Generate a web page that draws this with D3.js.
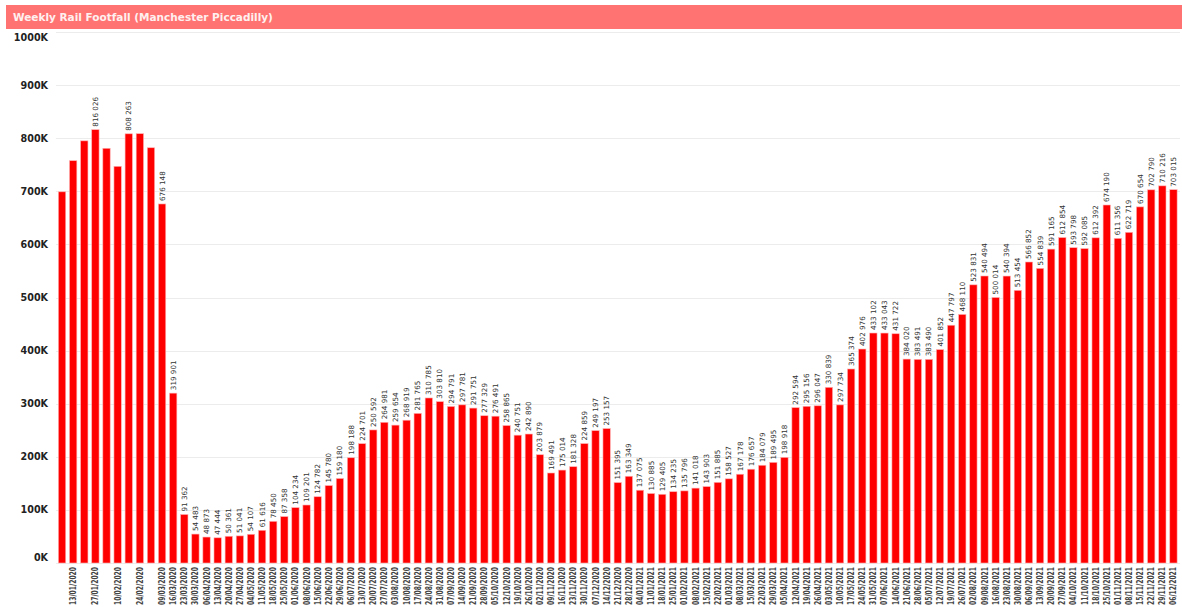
<!DOCTYPE html>
<html>
<head>
<meta charset="utf-8">
<script src="https://cdn.jsdelivr.net/npm/d3@7"></script>
<style>
  body { margin: 0; background: #fff; overflow: hidden; }
  svg { display: block; }
</style>
</head>
<body>
<div id="chart"></div>
<script>
// weekly footfall, Manchester Piccadilly
const weeks = [
  "06/01/2020","13/01/2020","20/01/2020","27/01/2020","03/02/2020","10/02/2020","17/02/2020","24/02/2020",
  "02/03/2020","09/03/2020","16/03/2020","23/03/2020","30/03/2020","06/04/2020","13/04/2020","20/04/2020",
  "27/04/2020","04/05/2020","11/05/2020","18/05/2020","25/05/2020","01/06/2020","08/06/2020","15/06/2020",
  "22/06/2020","29/06/2020","06/07/2020","13/07/2020","20/07/2020","27/07/2020","03/08/2020","10/08/2020",
  "17/08/2020","24/08/2020","31/08/2020","07/09/2020","14/09/2020","21/09/2020","28/09/2020","05/10/2020",
  "12/10/2020","19/10/2020","26/10/2020","02/11/2020","09/11/2020","16/11/2020","23/11/2020","30/11/2020",
  "07/12/2020","14/12/2020","21/12/2020","28/12/2020","04/01/2021","11/01/2021","18/01/2021","25/01/2021",
  "01/02/2021","08/02/2021","15/02/2021","22/02/2021","01/03/2021","08/03/2021","15/03/2021","22/03/2021",
  "29/03/2021","05/04/2021","12/04/2021","19/04/2021","26/04/2021","03/05/2021","10/05/2021","17/05/2021",
  "24/05/2021","31/05/2021","07/06/2021","14/06/2021","21/06/2021","28/06/2021","05/07/2021","12/07/2021",
  "19/07/2021","26/07/2021","02/08/2021","09/08/2021","16/08/2021","23/08/2021","30/08/2021","06/09/2021",
  "13/09/2021","20/09/2021","27/09/2021","04/10/2021","11/10/2021","18/10/2021","25/10/2021","01/11/2021",
  "08/11/2021","15/11/2021","22/11/2021","29/11/2021","06/12/2021"
];

const footfall = [
  699000, 757600, 795000, 816026, 781000, 747000, 808263, 808500,
  782000, 676148, 319901, 91362, 54483, 48873, 47444, 50361,
  51041, 54107, 61616, 78450, 87358, 104234, 109201, 124782,
  145780, 159180, 198188, 224701, 250592, 264981, 259654, 268919,
  281765, 310785, 303810, 294791, 297781, 291751, 277329, 276491,
  258865, 240751, 242890, 203879, 169491, 175014, 181328, 224859,
  249197, 253157, 151395, 163349, 137075, 130885, 129405, 134235,
  135796, 141018, 143903, 151885, 158527, 167178, 176657, 184079,
  189495, 198918, 292594, 295156, 296047, 330839, 297734, 365374,
  402976, 433102, 433043, 431722, 384020, 383491, 383490, 401852,
  447797, 468110, 523831, 540494, 500014, 540394, 513454, 566852,
  554839, 591165, 612854, 593798, 592085, 612392, 674190, 611356,
  622719, 670654, 702790, 710216, 703015
];

// bars whose value / date label is not shown in the original
const hiddenValueLabels = [0, 1, 2, 4, 5, 7, 8];
const hiddenDateLabels = [0, 2, 4, 6, 8];

const yTicks = [0, 100000, 200000, 300000, 400000, 500000, 600000, 700000, 800000, 900000, 1000000];

const width = 1182;
const height = 607;
const margin = { top: 32, right: 3, bottom: 44, left: 56 };

const svg = d3.select("#chart")
  .append("svg")
  .attr("width", width)
  .attr("height", height);

// title bar
svg.append("rect")
  .attr("x", 6)
  .attr("y", 5)
  .attr("width", width - 6)
  .attr("height", 24)
  .attr("fill", "#ff7472");

svg.append("text")
  .attr("x", 13)
  .attr("y", 21)
  .attr("font-family", "DejaVu Sans")
  .attr("font-weight", "bold")
  .attr("font-size", "10.5px")
  .attr("fill", "#fff0f0")
  .text("Weekly Rail Footfall (Manchester Piccadilly)");

const x = d3.scaleBand()
  .domain(d3.range(weeks.length))
  .range([margin.left + 0.5, width - margin.right])
  .paddingInner(0.34)
  .paddingOuter(0.17);

const y = d3.scaleLinear()
  .domain([0, 1000000])
  .range([height - margin.bottom, margin.top]);

// gridlines
svg.append("g")
  .selectAll("line")
  .data(yTicks)
  .join("line")
  .attr("x1", margin.left)
  .attr("x2", width - 2)
  .attr("y1", d => Math.round(y(d)) + 0.5)
  .attr("y2", d => Math.round(y(d)) + 0.5)
  .attr("stroke", "#ececec")
  .attr("stroke-width", 1);

// y labels (first and last pulled in like the original)
svg.append("g")
  .selectAll("text")
  .data(yTicks)
  .join("text")
  .attr("x", 48)
  .attr("y", d => {
    let p = y(d);
    if (d === 0) p -= 6;
    if (d === 1000000) p += 5;
    return p + 3.5;
  })
  .attr("text-anchor", "end")
  .attr("font-family", "DejaVu Sans")
  .attr("font-weight", "bold")
  .attr("font-size", "9.6px")
  .attr("fill", "#222")
  .text(d => (d / 1000) + "K");

// bars
svg.append("g")
  .attr("fill", "#ff0000")
  .selectAll("rect")
  .data(footfall)
  .join("rect")
  .attr("x", (d, i) => x(i))
  .attr("y", d => y(d))
  .attr("width", x.bandwidth())
  .attr("height", d => y(0) - y(d))
  .attr("stroke", "#ffb0b0")
  .attr("stroke-width", 0.6);

// value labels
const fmt = v => d3.format(",")(v).replace(/,/g, " ");

svg.append("g")
  .selectAll("text")
  .data(footfall.map((v, i) => ({ v, i })).filter(d => !hiddenValueLabels.includes(d.i)))
  .join("text")
  .attr("transform", d => `translate(${x(d.i) + x.bandwidth() / 2 + 2.5},${y(d.v) - 3}) rotate(-90)`)
  .attr("font-family", "DejaVu Sans")
  .attr("font-size", "7.2px")
  .attr("fill", "#333")
  .text(d => fmt(d.v));

// x labels, squeezed so the whole date fits under the plot
svg.append("g")
  .selectAll("text")
  .data(weeks.map((w, i) => ({ w, i })).filter(d => !hiddenDateLabels.includes(d.i)))
  .join("text")
  .attr("transform", d => `translate(${x(d.i) + x.bandwidth() / 2 + 3},${height - margin.bottom + 4}) rotate(-90)`)
  .attr("text-anchor", "end")
  .attr("textLength", 38)
  .attr("lengthAdjust", "spacingAndGlyphs")
  .attr("font-family", "DejaVu Sans")
  .attr("font-weight", "bold")
  .attr("font-size", "8.6px")
  .attr("fill", "#444")
  .text(d => d.w);
</script>
</body>
</html>
